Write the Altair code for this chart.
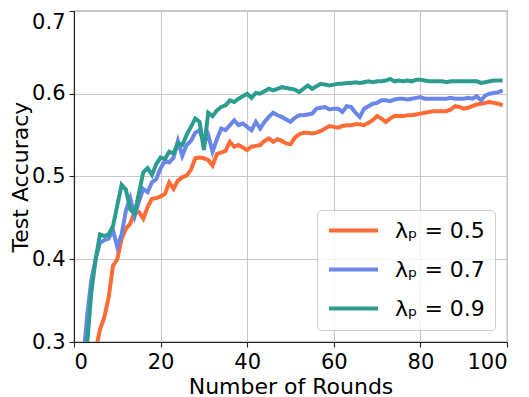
import altair as alt
import pandas as pd

rounds = list(range(100))

acc_05 = [0.05, 0.10, 0.15, 0.20, 0.25, 0.29, 0.315, 0.33, 0.354, 0.392,
          0.40, 0.425, 0.437, 0.443, 0.458, 0.457, 0.449, 0.463, 0.473, 0.474,
          0.476, 0.479, 0.493, 0.485, 0.495, 0.499, 0.501, 0.508, 0.522, 0.523,
          0.522, 0.52, 0.513, 0.527, 0.529, 0.531, 0.542, 0.536, 0.538, 0.535,
          0.532, 0.536, 0.537, 0.538, 0.543, 0.546, 0.542, 0.545, 0.543, 0.540,
          0.539, 0.547, 0.551, 0.553, 0.553, 0.552, 0.553, 0.555, 0.558, 0.561,
          0.560, 0.559, 0.561, 0.562, 0.562, 0.563, 0.563, 0.562, 0.565, 0.568,
          0.573, 0.570, 0.566, 0.570, 0.573, 0.573, 0.573, 0.574, 0.574, 0.575,
          0.576, 0.577, 0.578, 0.579, 0.579, 0.579, 0.579, 0.581, 0.585, 0.584,
          0.582, 0.583, 0.585, 0.587, 0.588, 0.589, 0.590, 0.589, 0.588, 0.586]

acc_07 = [0.08, 0.16, 0.27, 0.33, 0.375, 0.40, 0.42, 0.423, 0.425, 0.435,
          0.415, 0.43, 0.459, 0.474, 0.452, 0.47, 0.485, 0.481, 0.493, 0.497,
          0.51, 0.519, 0.517, 0.523, 0.543, 0.525, 0.538, 0.543, 0.553, 0.556,
          0.54, 0.55, 0.53, 0.545, 0.558, 0.556, 0.562, 0.568, 0.562, 0.564,
          0.56, 0.556, 0.566, 0.558, 0.566, 0.572, 0.577, 0.574, 0.572, 0.569,
          0.566, 0.571, 0.574, 0.574, 0.575, 0.576, 0.582, 0.583, 0.584, 0.581,
          0.582, 0.582, 0.578, 0.585, 0.584, 0.577, 0.572, 0.582, 0.585, 0.588,
          0.589, 0.592, 0.592, 0.591, 0.593, 0.594, 0.594, 0.593, 0.594, 0.595,
          0.596, 0.594, 0.594, 0.594, 0.594, 0.594, 0.594, 0.595, 0.594, 0.594,
          0.594, 0.595, 0.594, 0.597, 0.592, 0.598, 0.600, 0.601, 0.602, 0.604]

acc_09 = [0.10, 0.18, 0.25, 0.295, 0.36, 0.40, 0.43, 0.428, 0.43, 0.44,
          0.465, 0.49, 0.484, 0.46, 0.455, 0.48, 0.505, 0.51, 0.502, 0.515,
          0.523, 0.521, 0.53, 0.528, 0.54, 0.538, 0.55, 0.56, 0.57, 0.566,
          0.532, 0.577, 0.573, 0.58, 0.584, 0.586, 0.592, 0.59, 0.594, 0.597,
          0.60, 0.595, 0.601, 0.600, 0.603, 0.606, 0.604, 0.606, 0.608, 0.607,
          0.606, 0.605, 0.602, 0.606, 0.61, 0.606, 0.609, 0.612, 0.611, 0.610,
          0.611, 0.612, 0.612, 0.613, 0.613, 0.614, 0.613, 0.614, 0.615, 0.614,
          0.615, 0.615, 0.616, 0.618, 0.615, 0.616, 0.615, 0.616, 0.615, 0.617,
          0.617, 0.616, 0.615, 0.615, 0.615, 0.615, 0.614, 0.615, 0.615, 0.615,
          0.615, 0.615, 0.615, 0.615, 0.613, 0.614, 0.615, 0.616, 0.616, 0.616]

series_labels = ["λₚ = 0.5", "λₚ = 0.7", "λₚ = 0.9"]
series_colors = ["#FF6B35", "#6A86E8", "#2A9D8F"]
x_ticks = [0, 20, 40, 60, 80, 100]
y_ticks = [0.3, 0.4, 0.5, 0.6, 0.7]

rows = []
for lab, vals in zip(series_labels, [acc_05, acc_07, acc_09]):
    for r, v in zip(rounds, vals):
        rows.append({"round": r, "acc": v, "series": lab})
df = pd.DataFrame(rows)

FONT = "DejaVu Sans"

chart = alt.Chart(df).mark_line(clip=True, strokeWidth=4).encode(
    x=alt.X("round:Q",
            scale=alt.Scale(domain=[0, 100], nice=False),
            axis=alt.Axis(values=x_ticks, title="Number of Rounds", format="d",
                          titleY=51, titleBaseline="alphabetic")),
    y=alt.Y("acc:Q",
            scale=alt.Scale(domain=[0.3, 0.7], nice=False, zero=False),
            axis=alt.Axis(values=y_ticks, title="Test Accuracy", format=".1f",
                          titleX=-47, titleBaseline="alphabetic",
                          labelBaseline={"condition": {"test": "datum.value > 0.69", "value": "top"},
                                         "value": "middle"})),
    color=alt.Color("series:N",
                    scale=alt.Scale(domain=series_labels, range=series_colors),
                    legend=alt.Legend(title=None, orient="none", legendX=243, legendY=199,
                                      symbolType="stroke", symbolSize=2400,
                                      symbolStrokeWidth=4, labelFontSize=22,
                                      labelFont=FONT, labelColor="#000000",
                                      labelOffset=15, rowPadding=16, clipHeight=21,
                                      padding=10, fillColor="rgba(255,255,255,0.8)",
                                      strokeColor="#cccccc", cornerRadius=4)),
).properties(
    width=433, height=331,
    autosize=alt.AutoSizeParams(type="none"),
    padding={"left": 66, "top": 3, "right": 10, "bottom": 55},
).configure_axis(
    labelFont=FONT, titleFont=FONT, labelFontSize=21, titleFontSize=22,
    labelColor="#000000", titleColor="#000000", titleFontWeight="normal",
    domainColor="#222222", domainWidth=1.1, tickColor="#222222", tickWidth=1.1,
    tickSize=5, labelPadding=4, gridColor="#c8c8c8", gridWidth=1.1,
).configure_view(stroke="#222222", strokeWidth=1.1)

chart.save("out.html", embed_options={"renderer": "svg", "actions": False})
